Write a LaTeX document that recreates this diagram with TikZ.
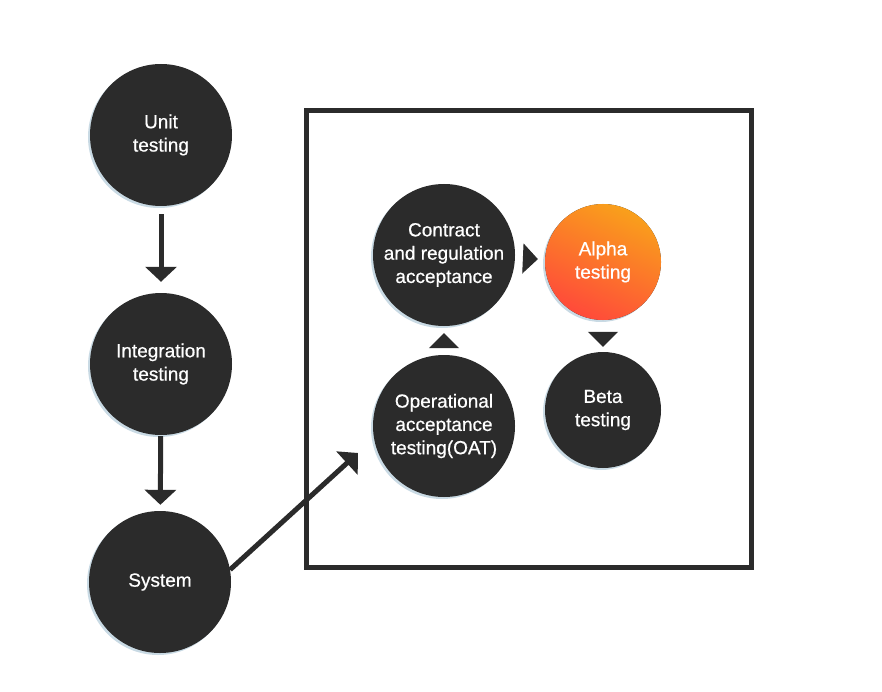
\documentclass[tikz,border=0pt]{standalone}
\usepackage{fontspec}
\setmainfont{Liberation Sans}[FakeBold=0.6]
\usetikzlibrary{arrows.meta,shadows}
\definecolor{ballfill}{HTML}{2B2B2B}
\definecolor{ballrim}{HTML}{C9DAE4}
\definecolor{alphatop}{HTML}{F9A01B}
\definecolor{alphabot}{HTML}{FF4A3A}
\begin{document}
\begin{tikzpicture}
  [x=1pt,y=-1pt,
   ball/.style={circle,fill=ballfill,text=white,align=center,inner sep=0pt,
     font=\fontsize{19}{23.3}\selectfont,
     drop shadow={shadow xshift=-2pt,shadow yshift=-2pt,fill=ballrim,opacity=1}},
   big/.style={ball,minimum size=142pt},
   small/.style={ball,minimum size=116pt},
   flow/.style={draw=ballfill,line width=5pt,-{Triangle[length=15pt,width=31pt]}},
   headonly/.style={draw=ballfill,line width=1pt,-{Triangle[length=15pt,width=30pt]}}]
  \useasboundingbox (0,0) rectangle (882,692);
  \draw[ballfill,line width=5pt] (306,111) rectangle (751,567);
  \node[big] (unit) at (161,135) {Unit\\testing};
  \node[big] (integ) at (161,364) {Integration\\testing};
  \node[big] (sys) at (160,582) {System};
  \node[big] (contract) at (444,255) {Contract\\and regulation\\acceptance};
  \node[big] (oat) at (444,426) {Operational\\acceptance\\testing(OAT)};
  \node[small,top color=alphatop,bottom color=alphabot,shading angle=-25] (alpha) at (603,262) {Alpha\\testing};
  \node[small] (beta) at (603,410) {Beta\\testing};
  \coordinate (oatin) at (358,453);
 \path
    (unit) edge [flow,shorten <=8pt,shorten >=11pt] (integ)
    (integ) edge [flow,shorten <=1pt,shorten >=6pt] (sys)
    (sys.10) edge [flow] (oatin)
    (contract) edge [headonly,shorten <=9pt,shorten >=7pt] (alpha)
    (oat) edge [headonly,shorten <=9pt,shorten >=7pt] (contract)
    (alpha) edge [headonly,shorten <=13pt,shorten >=5pt] (beta)
    ;

\end{tikzpicture}
\end{document}
